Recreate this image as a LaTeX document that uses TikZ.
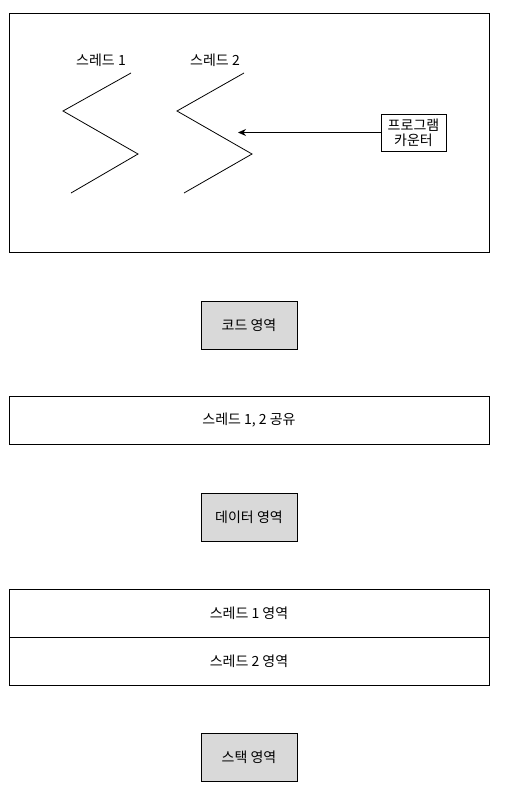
\documentclass[tikz,border=0pt]{standalone}
\usepackage{fontspec}
\setmainfont{Noto Sans CJK KR}
\usetikzlibrary{positioning}
\usetikzlibrary{arrows.meta}

\begin{document}
\begin{tikzpicture}[x=1pt,y=-1pt,line width=0.8pt,
  every node/.style={font=\fontsize{14}{17}\selectfont},
  region/.style={draw,fill=gray!30,minimum width=96pt,minimum height=48pt,inner sep=0pt},
  band/.style={draw,minimum width=480pt,minimum height=48pt,inner sep=0pt},
  pc/.style={draw,fill=white,align=center,inner sep=1pt,minimum width=65pt,minimum height=37pt}]
\useasboundingbox (0,0) rectangle (505,806);
\draw (9,13) rectangle (489,252);
% threads
\draw (131,73) -- (63,111) -- (138,154) -- (71,193);
\draw (244,73) -- (177,111) -- (252,154) -- (184,193);
\node (t1) at (101,60) {스레드 1};
\node (t2) at (215,60) {스레드 2};
\node[pc] (counter) at (413.5,132.5) {프로그램\\[-2pt]카운터};
\coordinate (pctip) at (238,132.5);
\draw[-{Stealth[length=8pt,width=7pt]}] (counter) -- (pctip);
% regions
\node[region] (code) at (249,325) {코드 영역};
\node[band] (shared) at (249,420.5) {스레드 1, 2 공유};
\node[region] (data) at (249,517) {데이터 영역};
\node[band] (s1) at (249,613) {스레드 1 영역};
\node[band] (s2) at (249,661) {스레드 2 영역};
\node[region] (stack) at (249,757) {스택 영역};
\end{tikzpicture}
\end{document}
